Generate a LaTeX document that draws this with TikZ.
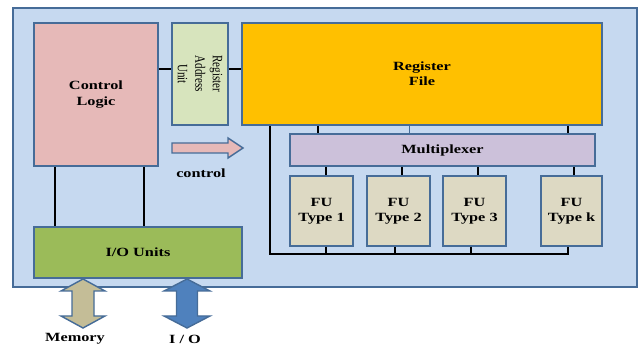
\documentclass[tikz,border=0pt]{standalone}
\usepackage{fontspec}
\newfontfamily\boxfont{Liberation Serif}[FakeStretch=1.3]
\newfontfamily\sidefont{Liberation Serif}
\newcommand{\tall}[1]{\scalebox{1}[1.3]{#1}}
\usetikzlibrary{fit, calc}

\definecolor{panelblue}{RGB}{198,217,240}
\definecolor{edgeblue}{RGB}{70,108,152}
\definecolor{clpink}{RGB}{230,185,184}
\definecolor{raugreen}{RGB}{215,228,189}
\definecolor{rforange}{RGB}{255,192,0}
\definecolor{muxlilac}{RGB}{204,193,218}
\definecolor{futan}{RGB}{221,217,195}
\definecolor{iogreen}{RGB}{155,187,89}
\definecolor{memtan}{RGB}{196,189,151}
\definecolor{ioblue}{RGB}{79,129,189}

\begin{document}
\begin{tikzpicture}[x=0.03cm, y=-0.03cm,
	unit box/.style={draw=edgeblue, line width=1.5pt, inner sep=0pt},
	box text/.style={align=center, inner sep=0pt,
		font=\boxfont\fontsize{10.7}{13}\selectfont\bfseries},
	side label/.style={rotate=-90, align=center, inner sep=0pt,
		font=\sidefont\fontsize{9.4}{15}\selectfont},
	wire/.style={black, line width=1.6pt},
	block arrow/.style={draw=edgeblue, line width=1.2pt, line join=miter},
	]
	\useasboundingbox (0,0) rectangle (640,345);
	
	% Background panel
	\draw[draw=edgeblue, fill=panelblue, line width=1.5pt] (13,8) rectangle (637,287);
	
	% LEFT SIDE - control and I/O
	\node[unit box, fill=clpink, fit={(34,23) (158,166)}] (cl) {};
	\node[box text] (cltext) at (cl.center) {Control\\Logic};
	\node[unit box, fill=raugreen, fit={(172,23) (228,125)}] (rau) {};
	\node[side label] (rautext) at (rau.center) {\tall{Register}\\\tall{Address}\\\tall{Unit}};
	\node[unit box, fill=iogreen, fit={(34,227) (242,278)}] (io) {};
	\node[box text] (iotext) at (io.center) {I/O Units};
	
	% RIGHT SIDE - datapath
	\node[unit box, fill=rforange, fit={(242,23) (602,125)}] (rf) {};
	\node[box text] (rftext) at (rf.center) {Register\\File};
	\node[unit box, fill=muxlilac, fit={(290,134) (595,166)}] (mux) {};
	\node[box text] (muxtext) at (mux.center) {Multiplexer};
	\node[unit box, fill=futan, fit={(290,176) (353,246)}] (fu1) {};
	\node[unit box, fill=futan, fit={(367,176) (430,246)}] (fu2) {};
	\node[unit box, fill=futan, fit={(443,176) (506,246)}] (fu3) {};
	\node[unit box, fill=futan, fit={(541,176) (602,246)}] (fuk) {};
	\foreach \n/\t in {fu1/1, fu2/2, fu3/3, fuk/k}
		\node[box text] (\n text) at (\n.center) {FU\\Type \t};
	
	% Links along the top
	\coordinate (link) at (0,69);
	\draw[wire] (cl.east |- link) -- (rau.west |- link);
	\draw[wire] (rau.east |- link) -- (rf.west |- link);
	
	% Control logic to I/O units
	\foreach \dx in {22,111}
		\draw[wire] ($(cl.south west)+(\dx,0)$) -- ($(io.north west)+(\dx,0)$);
	
	% Register file to multiplexer
	\foreach \x in {318,568} {
		\coordinate (tap) at (\x,0);
		\draw[wire] (rf.south -| tap) -- (mux.north -| tap);
	}
	\coordinate (midtap) at (409,0);
	\draw[edgeblue, line width=0.7pt] (rf.south -| midtap) -- (mux.north -| midtap);
	
	% Multiplexer to FUs
	\foreach \n/\dx in {fu1/4.5, fu2/3.5, fu3/3.5, fuk/2.5}
		\draw[wire] ([xshift=\dx*0.03cm]\n.north) -- ([xshift=\dx*0.03cm]\n.north |- mux.south);
	
	% Result bus back to register file
	\coordinate (busstart) at (270,0);
	\coordinate (busend) at (568,254);
	\draw[wire] (rf.south -| busstart) |- (busend) -- (fuk.south -| busend);
	\foreach \n/\x in {fu1/326, fu2/395, fu3/471} {
		\coordinate (drop) at (\x,254);
		\draw[wire] (\n.south -| drop) -- (drop);
	}
	
	% Control arrow
	\draw[block arrow, fill=clpink]
	(172,143) -- (228,143) -- (228,138) -- (243,148) -- (228,158) -- (228,153) -- (172,153) -- cycle;
	\node[box text] (ctrl) at (201,173) {control};
	
	% Memory and I/O double arrows
	\draw[block arrow, fill=memtan]
	(83,279) -- (105,291) -- (94,291) -- (94,316) -- (105,316) -- (83,328)
	-- (61,316) -- (72,316) -- (72,291) -- (61,291) -- cycle;
	\draw[block arrow, fill=ioblue]
	(187,279) -- (210,291) -- (197.5,291) -- (197.5,316) -- (210,316) -- (187,328)
	-- (164,316) -- (176.5,316) -- (176.5,291) -- (164,291) -- cycle;
	\node[box text] (mem) at (75,339) {Memory};
	\node[box text] (iolabel) at (185,339) {I / O};
	
\end{tikzpicture}
\end{document}
